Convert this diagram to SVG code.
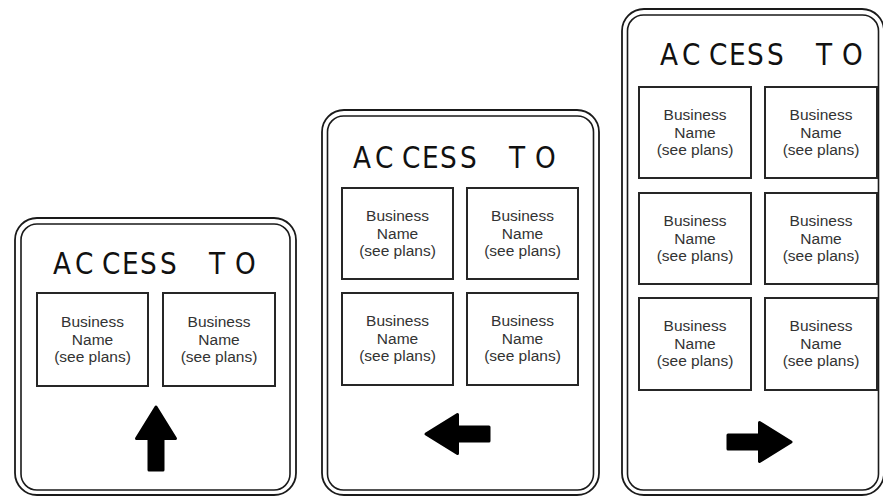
<svg xmlns="http://www.w3.org/2000/svg" xmlns:xlink="http://www.w3.org/1999/xlink" width="883" height="497" viewBox="0 0 883 497">
<style>
.outer{fill:#fff;stroke:#1a1a1a;stroke-width:1.8}
.inner{fill:#fff;stroke:#1a1a1a;stroke-width:1.6}
.panel{fill:#fff;stroke:#262626;stroke-width:2}
.title{font-family:"DejaVu Sans",sans-serif;font-size:31px;fill:#111}
.bn{font-family:"Liberation Sans",Arial,sans-serif;font-size:15.5px;fill:#333;text-anchor:middle}
.arrow{fill:#000;stroke:#000;stroke-width:3;stroke-linejoin:round}
</style>
<defs>
<path id="arrowUp" d="M0,-33 L19.5,-1.5 L7,-1.5 L7,30 L-7,30 L-7,-1.5 L-19.5,-1.5 Z"/>
</defs>
<rect width="883" height="497" fill="#fff"/>

<g id="sign1">
<rect class="outer" x="15" y="218" width="281" height="277" rx="22"/>
<rect class="inner" x="21" y="224" width="269" height="266" rx="16"/>
<g transform="translate(53,274) scale(0.85,1)"><text class="title" x="0 25.9 57.6 81.2 102.4 125.9 149.4 183.5 214.1" y="0">ACCESS TO</text></g>
<g id="s1p1"><rect class="panel" x="37" y="293" width="111" height="93"/>
<text class="bn" x="92.5" y="327">Business</text><text class="bn" x="92.5" y="345">Name</text><text class="bn" x="92.5" y="362">(see plans)</text></g>
<g id="s1p2"><rect class="panel" x="163" y="293" width="112" height="93"/>
<text class="bn" x="219" y="327">Business</text><text class="bn" x="219" y="345">Name</text><text class="bn" x="219" y="362">(see plans)</text></g>
<use id="s1arrow" xlink:href="#arrowUp" class="arrow" transform="translate(156,440)"/>
</g>

<g id="sign2">
<rect class="outer" x="322" y="110" width="277" height="385" rx="22"/>
<rect class="inner" x="327.5" y="116" width="266" height="374" rx="16"/>
<g transform="translate(353,168) scale(0.85,1)"><text class="title" x="0 25.9 57.6 81.2 102.4 125.9 149.4 183.5 214.1" y="0">ACCESS TO</text></g>
<g id="s2p1"><rect class="panel" x="342" y="188" width="111" height="91"/>
<text class="bn" x="397.5" y="221">Business</text><text class="bn" x="397.5" y="239">Name</text><text class="bn" x="397.5" y="256">(see plans)</text></g>
<g id="s2p2"><rect class="panel" x="467" y="188" width="111" height="91"/>
<text class="bn" x="522.5" y="221">Business</text><text class="bn" x="522.5" y="239">Name</text><text class="bn" x="522.5" y="256">(see plans)</text></g>
<g id="s2p3"><rect class="panel" x="342" y="293" width="111" height="92"/>
<text class="bn" x="397.5" y="326">Business</text><text class="bn" x="397.5" y="344">Name</text><text class="bn" x="397.5" y="361">(see plans)</text></g>
<g id="s2p4"><rect class="panel" x="467" y="293" width="111" height="92"/>
<text class="bn" x="522.5" y="326">Business</text><text class="bn" x="522.5" y="344">Name</text><text class="bn" x="522.5" y="361">(see plans)</text></g>
<use id="s2arrow" xlink:href="#arrowUp" class="arrow" transform="translate(459,434) rotate(-90)"/>
</g>

<g id="sign3">
<rect class="outer" x="622" y="9" width="262" height="486" rx="22"/>
<rect class="inner" x="627.5" y="15" width="251" height="475" rx="16"/>
<g transform="translate(660,65) scale(0.85,1)"><text class="title" x="0 25.9 57.6 81.2 102.4 125.9 149.4 183.5 214.1" y="0">ACCESS TO</text></g>
<g id="s3p1"><rect class="panel" x="639" y="87" width="112" height="91"/>
<text class="bn" x="695" y="120">Business</text><text class="bn" x="695" y="138">Name</text><text class="bn" x="695" y="155">(see plans)</text></g>
<g id="s3p2"><rect class="panel" x="765" y="87" width="112" height="91"/>
<text class="bn" x="821" y="120">Business</text><text class="bn" x="821" y="138">Name</text><text class="bn" x="821" y="155">(see plans)</text></g>
<g id="s3p3"><rect class="panel" x="639" y="193" width="112" height="91"/>
<text class="bn" x="695" y="226">Business</text><text class="bn" x="695" y="244">Name</text><text class="bn" x="695" y="261">(see plans)</text></g>
<g id="s3p4"><rect class="panel" x="765" y="193" width="112" height="91"/>
<text class="bn" x="821" y="226">Business</text><text class="bn" x="821" y="244">Name</text><text class="bn" x="821" y="261">(see plans)</text></g>
<g id="s3p5"><rect class="panel" x="639" y="298" width="112" height="92"/>
<text class="bn" x="695" y="331">Business</text><text class="bn" x="695" y="349">Name</text><text class="bn" x="695" y="366">(see plans)</text></g>
<g id="s3p6"><rect class="panel" x="765" y="298" width="112" height="92"/>
<text class="bn" x="821" y="331">Business</text><text class="bn" x="821" y="349">Name</text><text class="bn" x="821" y="366">(see plans)</text></g>
<use id="s3arrow" xlink:href="#arrowUp" class="arrow" transform="translate(758,442) rotate(90)"/>
</g>
<g id="connectors"/>
</svg>
